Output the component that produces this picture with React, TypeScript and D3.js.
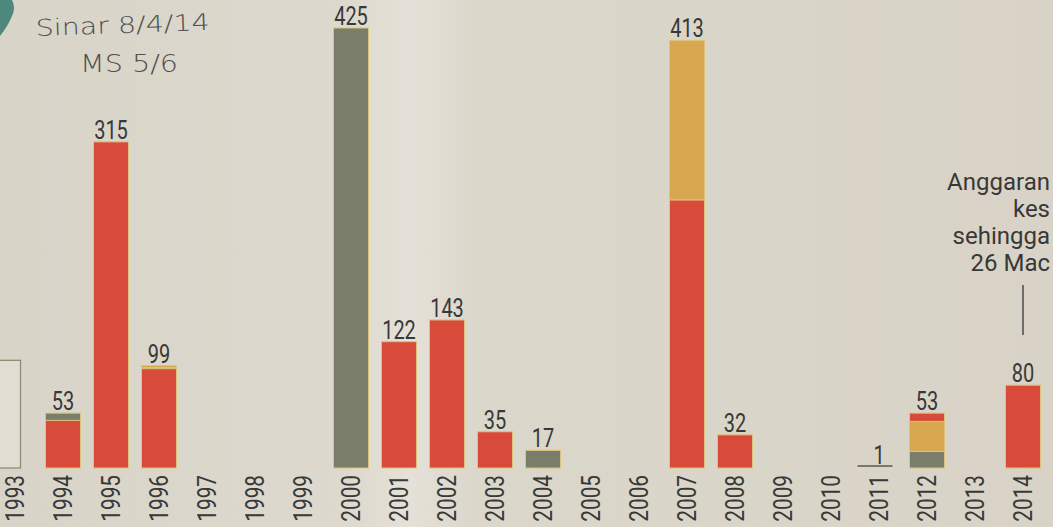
import React from 'react';
import * as d3 from 'd3';

const years = ['1993','1994','1995','1996','1997','1998','1999','2000','2001','2002','2003','2004','2005','2006','2007','2008','2009','2010','2011','2012','2013','2014'];
const redCases =    [0, 46, 315, 96, 0, 0, 0, 0, 122, 143, 35, 0, 0, 0, 259, 32, 0, 0, 0, 8, 0, 80];
const oliveCases =  [0, 7, 0, 2, 0, 0, 0, 425, 0, 0, 0, 17, 0, 0, 0, 0, 0, 0, 1, 16, 0, 0];
const orangeCases = [0, 0, 0, 1, 0, 0, 0, 0, 0, 0, 0, 0, 0, 0, 154, 0, 0, 0, 0, 29, 0, 0];
// 1993 bar is cut off at the left edge; only its outline is visible, label not visible
const outlineCases = [104, 0, 0, 0, 0, 0, 0, 0, 0, 0, 0, 0, 0, 0, 0, 0, 0, 0, 0, 0, 0, 0];
// stacking order (bottom -> top) differs per year in the original
const defaultOrder = ['red', 'olive', 'orange'];
const specialOrder: Record<string, string[]> = { '2012': ['olive', 'orange', 'red'] };
const noteLines = ['Anggaran', 'kes', 'sehingga', '26 Mac'];
const noteYear = '2014';
const handNote = ['Sinar 8/4/14', 'MS 5/6'];

const W = 1053, H = 527;
const FONT = "Roboto, 'Noto Sans', sans-serif";
const colors: Record<string, string> = { red: '#d84b3b', olive: '#7a7d6a', orange: '#d7a84f' };
const series: Record<string, number[]> = { red: redCases, olive: oliveCases, orange: orangeCases };

export default function App() {
  const baseline = 468;
  const x = d3.scalePoint<string>().domain(years).range([15, 1023]).padding(0);
  const y = d3.scaleLinear().domain([0, 425]).range([baseline, 28]);
  const bw = 35;

  const bars = years.map((yr, i) => {
    const order = specialOrder[yr] || defaultOrder;
    let cum = 0;
    const segs = order
      .map((k) => {
        const v = series[k][i];
        const s = { key: k, y0: cum, y1: cum + v };
        cum += v;
        return s;
      })
      .filter((s) => s.y1 > s.y0);
    return { yr, segs, total: cum };
  });

  const cx = (yr: string) => x(yr) as number;

  return (
    <svg width={W} height={H} style={{ position: 'fixed', left: 0, top: 0, display: 'block' }}>
      <defs>
        <linearGradient id="paper" x1="0" x2="1" y1="0" y2="0">
          <stop offset="0" stopColor="#d9d4c8" />
          <stop offset="0.33" stopColor="#ddd9ce" />
          <stop offset="0.39" stopColor="#e5e1d8" />
          <stop offset="0.45" stopColor="#dbd7cb" />
          <stop offset="1" stopColor="#d8d3c6" />
        </linearGradient>
      </defs>
      <rect x={0} y={0} width={W} height={H} fill="url(#paper)" />
      {/* teal mark at top-left corner */}
      <path d="M0,0 L12,0 Q16,8 12,16 Q8,26 0,36 Z" fill="#3e7f74" opacity={0.9} />
      {/* handwritten note */}
      <g fontFamily="'DejaVu Sans', sans-serif" fill="#505050" fontWeight={300}>
        <text x={36} y={36} fontSize={23} transform="rotate(-2 36 36)" textLength={174} lengthAdjust="spacingAndGlyphs">{handNote[0]}</text>
        <text x={80} y={72} fontSize={24} textLength={98} lengthAdjust="spacingAndGlyphs">{handNote[1]}</text>
      </g>

      {/* 1993 outline bar */}
      {years.map((yr, i) =>
        outlineCases[i] > 0 ? (
          <rect key={'o' + yr} x={cx(yr) - bw / 2 - 6} y={y(outlineCases[i])} width={bw - 6} height={baseline - y(outlineCases[i])}
            fill="#e1ddd3" stroke="#8e8d74" strokeWidth={1.3} />
        ) : null
      )}

      {/* stacked bars */}
      {bars.map((b) => (
        <g key={b.yr}>
          {b.segs.map((s) => {
            const top = y(s.y1), bot = y(s.y0);
            const h = bot - top;
            if (b.total < 3) return null;
            return (
              <rect key={s.key} x={cx(b.yr) - bw / 2} y={top} width={bw} height={Math.max(h, 2)}
                fill={colors[s.key]} stroke="#dcc27a" strokeWidth={1} />
            );
          })}
        </g>
      ))}

      {/* value labels */}
      <g fontFamily={FONT} fontSize={25} fontWeight={400} fill="#383838" textAnchor="middle">
        {bars.map((b) =>
          b.total > 0 ? (
            <text key={'l' + b.yr} transform={`translate(${cx(b.yr)},${y(b.total) - 3}) scale(0.8,1)`}>{b.total}</text>
          ) : null
        )}
      </g>
      {/* tiny value (1) drawn as a line on the baseline */}
      {bars.map((b) =>
        b.total > 0 && b.total < 3 ? (
          <line key={'u' + b.yr} x1={cx(b.yr) - bw / 2 - 4} x2={cx(b.yr) + bw / 2 - 4} y1={baseline - 2} y2={baseline - 2} stroke="#5a5a4c" strokeWidth={1.6} />
        ) : null
      )}

      {/* year labels */}
      <g fontFamily={FONT} fontSize={26} fontWeight={400} fill="#383838">
        {years.map((yr) => (
          <text key={'y' + yr} transform={`translate(${cx(yr) + 9},${baseline + 7}) rotate(-90) scale(0.8,1)`} textAnchor="end">{yr}</text>
        ))}
      </g>

      {/* annotation */}
      <g fontFamily={FONT} fontSize={24} fill="#383838" textAnchor="end">
        {noteLines.map((t, i) => (
          <text key={t} x={1050} y={190 + i * 27}>{t}</text>
        ))}
      </g>
      <line x1={cx(noteYear)} x2={cx(noteYear)} y1={285} y2={335} stroke="#4a4a4a" strokeWidth={1.5} />
    </svg>
  );
}
